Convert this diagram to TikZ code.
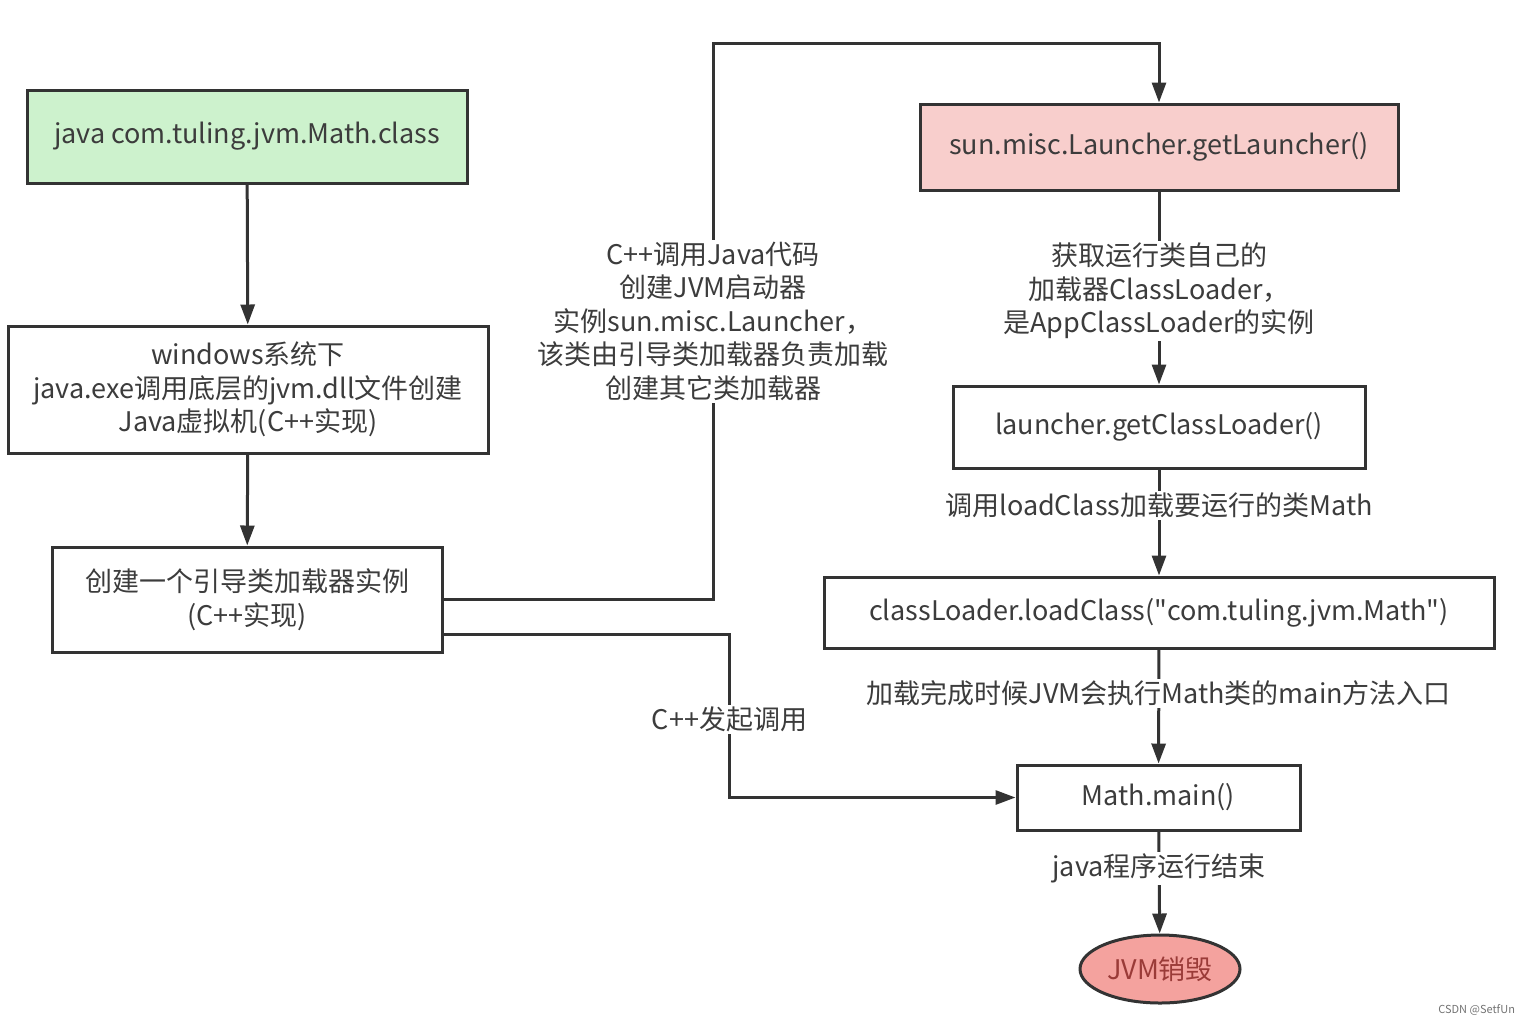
\documentclass[tikz,border=0pt]{standalone}
\usepackage{fontspec}
\setmainfont{Noto Sans CJK SC}
\newfontfamily\plainfont{Noto Sans CJK SC}
\usetikzlibrary{arrows.meta,shapes.geometric}
\definecolor{linegray}{HTML}{333333}
\definecolor{textgray}{HTML}{3C3C3C}
\definecolor{startgreen}{HTML}{CDF2CD}
\definecolor{launchpink}{HTML}{F8CECC}
\definecolor{endred}{HTML}{F4A29E}
\definecolor{endtext}{HTML}{9A3B38}
\newcommand{\dquote}{{\plainfont"}}
\begin{document}
\begin{tikzpicture}[
  x=0.5pt, y=-0.5pt,
  every node/.style = {text=textgray, align=center,
    font=\fontsize{13.5pt}{16.75pt}\selectfont},
  box/.style    = {shape=rectangle, draw=linegray, line width=1.5pt,
    fill=white, inner sep=0pt},
  startbox/.style  = {box, fill=startgreen},
  launchbox/.style = {box, fill=launchpink},
  endnode/.style   = {shape=ellipse, draw=linegray, line width=1.5pt,
    fill=endred, text=endtext, inner sep=0pt},
  lbl/.style    = {fill=white, inner sep=1pt},
  arr/.style    = {draw=linegray, line width=1.5pt,
    -{Triangle[width=7pt,length=10pt]}}]
\useasboundingbox (0,0) rectangle (1536,1024);
% left column
\node[startbox, minimum width=220pt, minimum height=46.5pt] (cmd) at (247,136.5)
  {java com.tuling.jvm.Math.class};
\node[box, minimum width=240pt, minimum height=63.5pt] (jvmdll) at (248,389.5)
  {windows系统下\\java.exe调用底层的jvm.dll文件创建\\Java虚拟机(C++实现)};
\node[box, minimum width=195pt, minimum height=52.5pt] (boot) at (247,599.5)
  {创建一个引导类加载器实例\\(C++实现)};
% right column
\node[launchbox, minimum width=239pt, minimum height=43pt] (launcher) at (1159,147)
  {sun.misc.Launcher.getLauncher()};
\node[box, minimum width=206pt, minimum height=41pt] (getcl) at (1159,427)
  {launcher.getClassLoader()};
\node[box, minimum width=335pt, minimum height=35.5pt] (loadcl) at (1159,612.5)
  {classLoader.loadClass(\dquote com.tuling.jvm.Math\dquote)};
\node[box, minimum width=141.5pt, minimum height=32.5pt] (mainm) at (1158.5,797.5)
  {Math.main()};
\node[endnode, minimum width=80pt, minimum height=34pt] (destroy) at (1160,969)
  {JVM销毁};
% connectors
\draw[arr] (cmd) -- (jvmdll);
\draw[arr] (jvmdll) -- (boot);
\draw[arr] (boot.east) -- (713,599.5)
  -- node[lbl]{C++调用Java代码\\创建JVM启动器\\实例sun.misc.Launcher，\\该类由引导类加载器负责加载\\创建其它类加载器} (713,43)
  -| (launcher.north);
\draw[arr] ([yshift=-17.5pt]boot.east) -- ++(286,0)
  |- node[lbl, pos=0.26]{C++发起调用} (mainm.west);
\draw[arr] (launcher) -- node[lbl, pos=0.515]{获取运行类自己的\\加载器ClassLoader，\\是AppClassLoader的实例} (getcl);
\draw[arr] (getcl) -- node[lbl, pos=0.34]{调用loadClass加载要运行的类Math} (loadcl);
\draw[arr] (loadcl) -- node[lbl, pos=0.385]{加载完成时候JVM会执行Math类的main方法入口} (mainm);
\draw[arr] (mainm) -- node[lbl, pos=0.36]{java程序运行结束} (destroy);
\node[text=black!55, font=\fontsize{5.5pt}{6pt}\selectfont, anchor=east] (mark) at (1522,1010) {CSDN @SetfUn};
\end{tikzpicture}
\end{document}
